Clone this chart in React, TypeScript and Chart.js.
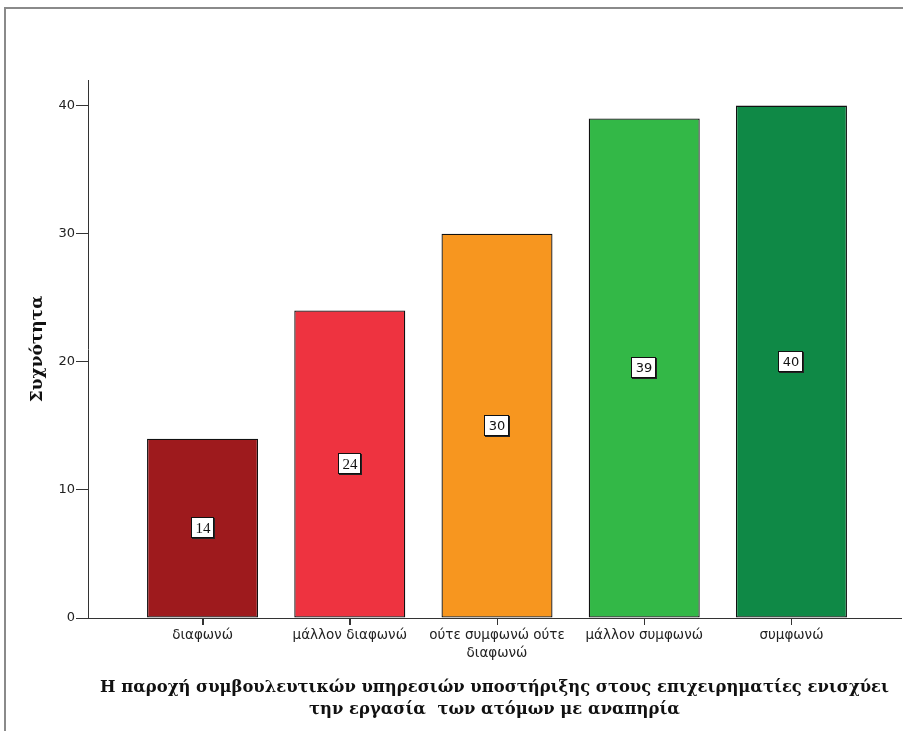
import React, { useEffect, useRef } from "react";
import { Chart, registerables } from "chart.js";

Chart.register(...registerables);

const categories: (string | string[])[] = [
  "διαφωνώ",
  "μάλλον διαφωνώ",
  ["ούτε συμφωνώ ούτε", "διαφωνώ"],
  "μάλλον συμφωνώ",
  "συμφωνώ",
];
const counts: number[] = [14, 24, 30, 39, 40];
const yTicks: number[] = [0, 10, 20, 30, 40];
const barColors: string[] = ["#9e1a1d", "#ee3340", "#f7961f", "#33b847", "#0f8946"];
const yTitle = "Συχνότητα";
const xTitle = [
  "Η παροχή συμβουλευτικών υπηρεσιών υποστήριξης στους επιχειρηματίες ενισχύει",
  "την εργασία  των ατόμων με αναπηρία",
];

const framePlugin = {
  id: "frame",
  beforeDraw(chart: any) {
    const ctx = chart.ctx;
    ctx.save();
    ctx.fillStyle = "#fff";
    ctx.fillRect(0, 0, chart.width, chart.height);
    ctx.strokeStyle = "#8a8a8a";
    ctx.lineWidth = 2;
    ctx.beginPath();
    ctx.moveTo(5, chart.height);
    ctx.lineTo(5, 8);
    ctx.lineTo(chart.width, 8);
    ctx.stroke();
    ctx.restore();
  },
  afterDraw(chart: any) {
    const ctx = chart.ctx;
    const xs = chart.scales.x;
    const base = chart.chartArea.bottom;
    ctx.save();
    ctx.strokeStyle = "#333";
    ctx.lineWidth = 1;
    categories.forEach((_, i) => {
      const px = Math.round(xs.getPixelForValue(i)) + 0.5;
      ctx.beginPath();
      ctx.moveTo(px, base);
      ctx.lineTo(px, base + 7);
      ctx.stroke();
    });
    ctx.restore();
  },
};

const labelPlugin = {
  id: "valueBoxes",
  afterDatasetsDraw(chart: any) {
    const ctx = chart.ctx;
    const meta = chart.getDatasetMeta(0);
    ctx.save();
    meta.data.forEach((el: any, i: number) => {
      const text = String(counts[i]);
      ctx.font = i < 2 ? '15px "Liberation Serif"' : '13px "DejaVu Sans"';
      const w = Math.round(ctx.measureText(text).width + 8);
      const h = 21;
      const cx = Math.round(el.x);
      const cy = Math.round((el.y + el.base) / 2);
      const x0 = cx - Math.round(w / 2);
      const y0 = cy - Math.round(h / 2);
      ctx.fillStyle = "#222";
      ctx.fillRect(x0 + 1, y0 + 1, w, h);
      ctx.fillStyle = "#fff";
      ctx.fillRect(x0, y0, w, h);
      ctx.strokeStyle = "#111";
      ctx.lineWidth = 1;
      ctx.strokeRect(x0 + 0.5, y0 + 0.5, w - 1, h - 1);
      ctx.fillStyle = "#111";
      ctx.textAlign = "center";
      ctx.textBaseline = "middle";
      ctx.fillText(text, cx, cy + 1);
    });
    ctx.restore();
  },
};

export default function App() {
  const ref = useRef<HTMLCanvasElement | null>(null);

  useEffect(() => {
    if (!ref.current) return;
    const chart = new Chart(ref.current, {
      type: "bar",
      data: {
        datasets: [
          {
            data: counts.map((v, i) => ({ x: i, y: v })),
            backgroundColor: barColors,
            borderColor: "#111",
            borderWidth: 1.3,
            borderSkipped: false,
            barPercentage: 0.754,
            categoryPercentage: 1,
          },
        ],
      },
      options: {
        responsive: false,
        animation: false,
        layout: { padding: { left: 0, top: 80, right: 2, bottom: 0 } },
        plugins: {
          legend: { display: false },
          tooltip: { enabled: false },
        },
        scales: {
          x: {
            type: "linear",
            min: -0.778,
            max: 4.744,
            offset: false,
            afterBuildTicks: (axis: any) => {
              axis.ticks = categories.map((_, i) => ({ value: i }));
            },
            afterFit: (axis: any) => {
              axis.height = 113;
            },
            ticks: {
              autoSkip: false,
              maxRotation: 0,
              padding: 2,
              color: "#222",
              font: { family: '"DejaVu Sans"', size: 13.5, lineHeight: 1.3 },
              callback: (_v: any, i: number) => categories[i] as any,
            },
            grid: {
              offset: false,
              drawOnChartArea: false,
              drawTicks: true,
              tickLength: 7,
              tickColor: "#333",
            },
            border: { display: true, color: "#333", width: 1 },
            title: {
              display: true,
              text: xTitle,
              color: "#111",
              font: { family: '"DejaVu Serif"', size: 16.4, weight: "bold", lineHeight: 1.34 },
              padding: { top: 0, bottom: 10 },
            },
          },
          y: {
            type: "linear",
            min: 0,
            max: 42,
            afterBuildTicks: (axis: any) => {
              axis.ticks = yTicks.map((v) => ({ value: v }));
            },
            afterFit: (axis: any) => {
              axis.width = 88;
            },
            ticks: {
              padding: 1,
              color: "#222",
              font: { family: '"DejaVu Sans"', size: 13 },
            },
            grid: {
              drawOnChartArea: false,
              drawTicks: true,
              tickLength: 12,
              tickColor: "#333",
            },
            border: { display: true, color: "#333", width: 1 },
            title: {
              display: true,
              text: yTitle,
              color: "#111",
              font: { family: '"DejaVu Serif"', size: 17, weight: "bold", lineHeight: 1.2 },
              padding: { top: 27, bottom: 0 },
            },
          },
        },
      } as any,
      plugins: [framePlugin, labelPlugin],
    });
    return () => chart.destroy();
  }, []);

  return (
    <div style={{ position: "absolute", left: 0, top: 0, width: 903, height: 731, background: "#fff" }}>
      <canvas ref={ref} width={903} height={731} style={{ display: "block" }} />
    </div>
  );
}
